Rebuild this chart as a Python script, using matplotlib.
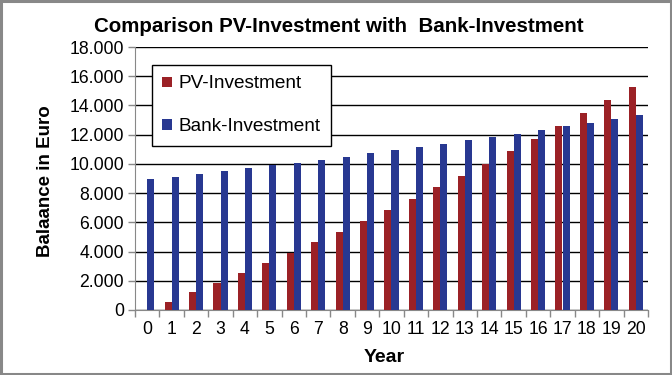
import matplotlib
matplotlib.use("Agg")
import matplotlib.pyplot as plt
import numpy as np
from matplotlib.ticker import FuncFormatter, FixedLocator
from matplotlib.patches import Rectangle

plt.rcParams['font.family'] = ['Liberation Sans', 'DejaVu Sans']

years = list(range(0, 21))
pv_investment = [0, 550, 1230, 1850, 2530, 3210, 3920, 4650, 5330, 6080, 6830,
                 7590, 8400, 9160, 9980, 10870, 11690, 12580, 13460, 14350, 15240]
bank_investment = [8950, 9090, 9290, 9500, 9700, 9930, 10050, 10250, 10460, 10730, 10930,
                   11140, 11340, 11620, 11820, 12030, 12300, 12580, 12780, 13050, 13330]

red = '#9B2126'
blue = '#283891'

fig = plt.figure(figsize=(6.72, 3.75), dpi=100)
ax = fig.add_axes([135/672, 1 - 310/375, (648-135)/672, (310-47)/375])

x = np.arange(len(years))
w = 0.29
ax.bar(x - w/2, pv_investment, width=w, color=red, label='PV-Investment', zorder=3)
ax.bar(x + w/2, bank_investment, width=w, color=blue, label='Bank-Investment', zorder=3)

ax.set_xlim(-0.5, len(years) - 0.5)
ax.set_ylim(0, 18000)
ax.set_yticks(np.arange(0, 18001, 2000))
ax.yaxis.set_major_formatter(FuncFormatter(lambda v, p: f"{int(v):,}".replace(',', '.')))
ax.grid(axis='y', color='black', linewidth=1.0, zorder=1)

ax.set_xticks(x)
ax.set_xticklabels([str(y) for y in years])
ax.xaxis.set_minor_locator(FixedLocator(np.arange(-0.5, len(years), 1)))
ax.tick_params(axis='x', which='major', length=0, labelsize=12.7, pad=8)
ax.tick_params(axis='x', which='minor', length=5, color='#888888', width=1)
ax.tick_params(axis='y', length=5, color='#888888', width=1, labelsize=12.7, pad=3)

for s in ['top', 'right']:
    ax.spines[s].set_visible(False)
ax.spines['left'].set_color('#888888')
ax.spines['bottom'].set_color('#888888')

ax.set_xlabel('Year', fontsize=14, fontweight='bold')
ax.set_ylabel('Balaance in Euro', fontsize=13.5, fontweight='bold')
ax.xaxis.set_label_coords((384-135)/513, -(357-310)/263)
ax.yaxis.set_label_coords(-(135-45)/513, 0.49)
ax.xaxis.label.set_va('center')
ax.yaxis.label.set_va('center')

fig.text(339/672, 1 - 32/375, 'Comparison PV-Investment with  Bank-Investment',
         ha='center', va='baseline', fontsize=14.8, fontweight='bold')

leg = ax.legend(loc='upper left', bbox_to_anchor=((152-135)/513, (310-65)/263),
                fontsize=13.7, frameon=True, fancybox=False, edgecolor='black',
                framealpha=1, handlelength=0.5, handleheight=0.45,
                labelspacing=1.36, borderpad=0.55, handletextpad=0.35,
                borderaxespad=0)
leg.get_frame().set_linewidth(1.0)

fig.patches.append(Rectangle((0.0015, 0.003), 0.997, 0.994, transform=fig.transFigure,
                             fill=False, edgecolor='#888888', linewidth=2.2))

fig.savefig('out.png', dpi=100)
